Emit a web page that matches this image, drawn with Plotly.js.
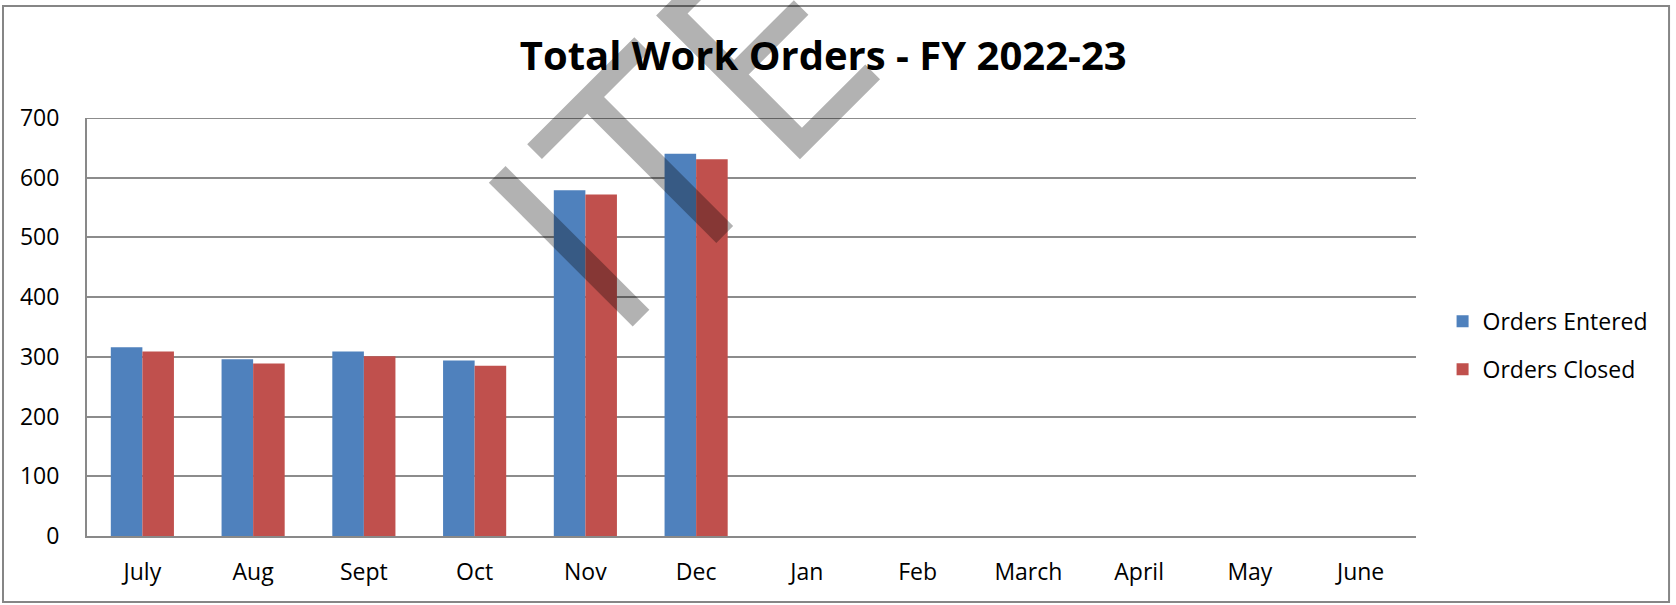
<!DOCTYPE html>
<html>
<head>
<meta charset="utf-8">
<script src="https://cdn.plot.ly/plotly-3.0.1.min.js"></script>
<style>
  html, body { margin: 0; padding: 0; background: #fff; }
  #chart { width: 1676px; height: 605px; }
</style>
</head>
<body>
<div id="chart"></div>
<script>
// Total work orders, fiscal year 2022-23
var months = ['July', 'Aug', 'Sept', 'Oct', 'Nov', 'Dec', 'Jan', 'Feb', 'March', 'April', 'May', 'June'];
var ordersEntered = [316, 296, 309, 294, 579, 640, null, null, null, null, null, null];
var ordersClosed = [309, 289, 301, 285, 572, 631, null, null, null, null, null, null];
var yTicks = [0, 100, 200, 300, 400, 500, 600, 700];

var data = [
    {
        x: months,
        y: ordersEntered,
        name: 'Orders Entered',
        type: 'bar',
        legendgroup: 'a',
        marker: {color: '#4F81BD'}
    },
    {
        x: months,
        y: ordersClosed,
        name: 'Orders Closed',
        type: 'bar',
        legendgroup: 'b',
        marker: {color: '#C0504D'}
    }
];

var layout = {
    width: 1676,
    height: 605,
    margin: {l: 87, r: 260, t: 118, b: 69},
    paper_bgcolor: '#fff',
    plot_bgcolor: '#fff',
    font: {family: '"Open Sans", sans-serif', size: 23, color: '#000'},
    title: {
        text: '<b>Total Work Orders - FY 2022-23</b>',
        font: {size: 40, color: '#000'},
        x: 0.554, xref: 'paper', xanchor: 'center',
        y: 0.907, yref: 'container', yanchor: 'middle'
    },
    barmode: 'group',
    bargap: 0.43,
    bargroupgap: 0,
    showlegend: true,
    legend: {
        x: 1.02, xanchor: 'left',
        y: 0.565, yanchor: 'top',
        traceorder: 'grouped',
        tracegroupgap: 15,
        itemwidth: 30,
        font: {size: 23}
    },
    xaxis: {
        type: 'category',
        showline: true, linecolor: '#898989', linewidth: 2,
        showgrid: false,
        ticks: 'outside', ticklen: 14, tickcolor: 'rgba(0,0,0,0)'
    },
    yaxis: {
        range: [0, 700],
        tickvals: yTicks,
        showline: true, linecolor: '#898989', linewidth: 2,
        showgrid: true, gridcolor: '#8c8c8c', gridwidth: 2,
        zeroline: false,
        ticks: 'outside', ticklen: 21, tickcolor: 'rgba(0,0,0,0)'
    },
    shapes: [
        // outer chart border
        {
            type: 'rect', xref: 'paper', yref: 'paper',
            x0: -0.0632, x1: 1.1904, y0: -0.158, y1: 1.268,
            line: {color: '#868686', width: 2}
        },
        // top gridline at 700
        {
            type: 'line', xref: 'paper', yref: 'y',
            x0: 0, x1: 1, y0: 700, y1: 700,
            line: {color: '#8c8c8c', width: 2}
        }
    ],
    annotations: [
        // watermark
        {
            text: 'ITE', xref: 'paper', yref: 'paper',
            x: 0.442, y: 0.975, xanchor: 'center', yanchor: 'middle',
            textangle: -45, showarrow: false,
            font: {family: '"Open Sans", sans-serif', size: 285, color: 'rgba(0,0,0,0.3)'}
        }
    ]
};

Plotly.newPlot('chart', data, layout, {displayModeBar: false, staticPlot: true});
</script>
</body>
</html>
